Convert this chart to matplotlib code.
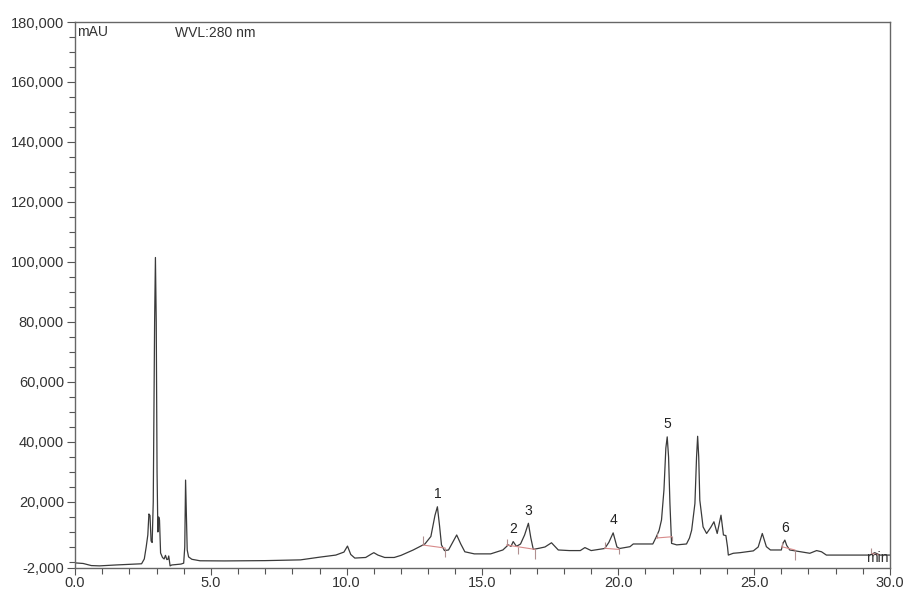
import matplotlib
matplotlib.use("Agg")
import matplotlib.pyplot as plt
from matplotlib.ticker import MultipleLocator, FuncFormatter

plt.rcParams['font.family'] = ['Liberation Sans', 'DejaVu Sans']

# trace (retention time in min, signal in mAU)
times = [0.00, 0.30, 0.60, 0.90, 1.50, 2.00, 2.45, 2.55, 2.62, 2.68, 2.72, 2.76,
         2.80, 2.84, 2.88, 2.93, 2.96, 2.99, 3.02, 3.05, 3.08, 3.11, 3.15, 3.22,
         3.28, 3.33, 3.38, 3.42, 3.45, 3.50, 3.56, 3.90, 4.00, 4.04, 4.07, 4.10,
         4.13, 4.18, 4.30, 4.60, 5.50, 7.00, 8.30, 9.00, 9.60, 9.90, 10.03, 10.15,
         10.30, 10.70, 10.90, 11.00, 11.15, 11.40, 11.75, 12.00, 12.45, 12.88, 13.10,
         13.25, 13.34, 13.42, 13.49, 13.60, 13.75, 13.90, 14.05, 14.20, 14.35, 14.70,
         15.30, 15.75, 15.95, 16.05, 16.13, 16.25, 16.40, 16.55, 16.69, 16.78, 16.87,
         17.10, 17.30, 17.54, 17.79, 18.20, 18.60, 18.77, 19.00, 19.50, 19.65, 19.81,
         19.95, 20.05, 20.43, 20.55, 21.27, 21.40, 21.50, 21.59, 21.68, 21.75, 21.80,
         21.85, 21.90, 21.96, 22.15, 22.51, 22.62, 22.70, 22.82, 22.88, 22.92, 22.96,
         23.00, 23.12, 23.25, 23.40, 23.52, 23.64, 23.72, 23.78, 23.87, 23.96, 24.02,
         24.05, 24.23, 24.48, 24.97, 25.15, 25.30, 25.45, 25.60, 26.00, 26.06, 26.13,
         26.20, 26.31, 27.05, 27.30, 27.48, 27.66, 29.26, 29.44, 29.63, 30.00]
signal = [-300, -500, -1200, -1300, -1000, -800, -600, 1000, 5000, 9000, 16000, 15500,
          7000, 6500, 20000, 80000, 101500, 80000, 30000, 10000, 15000, 14000, 3000, 1500,
          1000, 2200, 800, 900, 2000, -1300, -1000, -700, -400, 5000, 27300, 15000,
          4000, 1700, 900, 400, 350, 450, 700, 1600, 2300, 3300, 5300, 2500,
          1300, 1500, 2600, 3100, 2300, 1500, 1500, 2200, 4000, 6000, 8500,
          15500, 18400, 12000, 5700, 3800, 4000, 6500, 9000, 6000, 3400, 2700,
          2700, 4000, 5700, 5200, 6800, 5200, 6000, 9000, 12900, 8000, 4200,
          4600, 5000, 6400, 4000, 3800, 3800, 4800, 3800, 4500, 6500, 9700,
          5000, 4500, 5100, 6000, 6000, 8400, 10500, 14000, 24000, 38000, 41700,
          35000, 19500, 6200, 5700, 6000, 8000, 10600, 19500, 35000, 41900, 35000,
          20600, 11700, 9500, 11500, 13400, 9500, 13000, 15600, 9000, 8800, 5000,
          2300, 2900, 3100, 3700, 5000, 9500, 5100, 4000, 4000, 6200, 7300,
          5500, 4000, 2900, 3800, 3400, 2300, 2300, 3100, 2300, 2300]

# integrated peaks: number, apex time, apex height
peak_ids = ['1', '2', '3', '4', '5', '6']
peak_t = [13.34, 16.13, 16.69, 19.81, 21.80, 26.13]
peak_h = [18400, 6800, 12900, 9700, 41700, 7300]

# integration baselines (start t, start v, end t, end v)
base_t0 = [12.81, 15.89, 19.50, 21.41, 26.01, 29.32]
base_v0 = [5650, 5650, 4550, 8000, 5100, 2800]
base_t1 = [13.62, 16.93, 20.01, 21.96, 26.50, 29.60]
base_v1 = [4650, 4200, 4200, 8400, 4000, 2400]

# peak delimiter marks (time, low, high)
mark_t = [12.81, 13.62, 15.89, 16.31, 16.93, 19.50, 20.01, 21.41, 21.96, 26.01, 26.50, 29.32]
mark_lo = [5500, 1500, 5500, 2500, 1000, 4500, 2500, 8000, 7000, 5000, 500, 2500]
mark_hi = [8500, 4700, 7500, 5000, 4300, 6700, 4500, 9500, 8500, 6500, 4000, 4800]

fig = plt.figure(figsize=(9.06, 5.93), dpi=100)
ax = fig.add_axes([0.0828, 0.0422, 0.8995, 0.9207])

ax.plot(times, signal, color='#3a3a3a', lw=0.9)
for i in range(len(base_t0)):
    ax.plot([base_t0[i], base_t1[i]], [base_v0[i], base_v1[i]], color='#d88a8a', lw=0.8)
ax.vlines(mark_t, mark_lo, mark_hi, color='#b09090', lw=0.8)

for lab, t, h in zip(peak_ids, peak_t, peak_h):
    ax.annotate(lab, (t, h), xytext=(0, 4), textcoords='offset points',
                ha='center', va='bottom', fontsize=10, color='#222222')

ax.set_xlim(0, 30)
ax.set_ylim(-2000, 180000)
ax.set_xticks([0, 5, 10, 15, 20, 25, 30])
ax.set_yticks([-2000, 20000, 40000, 60000, 80000, 100000, 120000, 140000, 160000, 180000])
ax.xaxis.set_minor_locator(MultipleLocator(1))
ax.yaxis.set_minor_locator(MultipleLocator(5000))
ax.xaxis.set_major_formatter(FuncFormatter(lambda v, p: '%.1f' % v))
ax.yaxis.set_major_formatter(FuncFormatter(lambda v, p: '{:,.0f}'.format(v)))
ax.tick_params(which='major', length=6, width=0.8, color='#555555',
               labelsize=10.5, labelcolor='#333333')
ax.tick_params(which='minor', length=4, width=0.8, color='#555555')
ax.tick_params(axis='x', which='major', length=5, pad=1)
ax.tick_params(axis='y', pad=2)
for s in ax.spines.values():
    s.set_color('#666666')
    s.set_linewidth(1.0)

ax.text(0.003, 0.995, 'mAU', transform=ax.transAxes, ha='left', va='top',
        fontsize=10, color='#333333')
ax.text(0.123, 0.993, 'WVL:280 nm', transform=ax.transAxes, ha='left', va='top',
        fontsize=10, color='#333333')
ax.text(0.998, 0.005, 'min', transform=ax.transAxes, ha='right', va='bottom',
        fontsize=10, color='#333333')

fig.savefig('out.png', dpi=100, facecolor='white')
